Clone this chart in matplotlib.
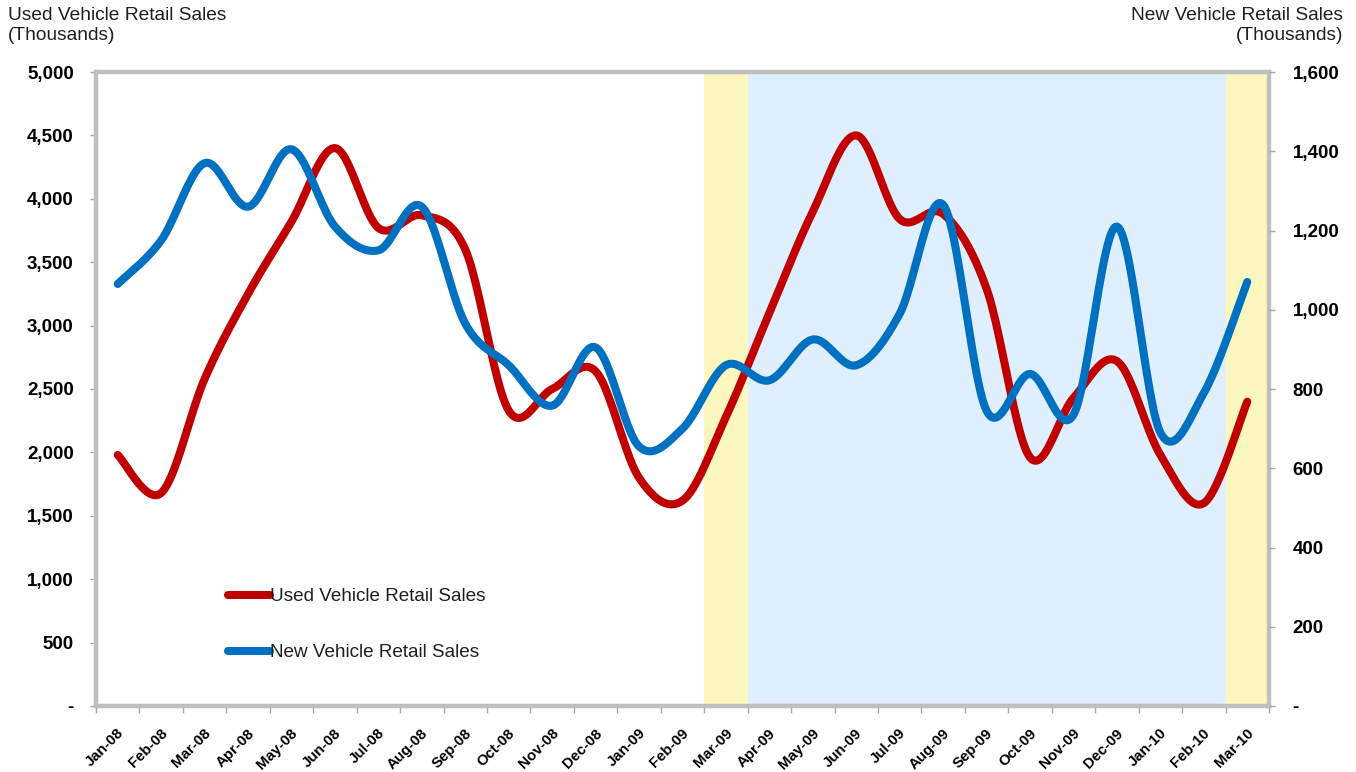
import numpy as np
import matplotlib
matplotlib.use('Agg')
import matplotlib.pyplot as plt
from matplotlib.ticker import FixedLocator, FuncFormatter
from matplotlib.transforms import ScaledTranslation

plt.rcParams['font.family'] = ['Liberation Sans', 'DejaVu Sans']

months = ['Jan-08', 'Feb-08', 'Mar-08', 'Apr-08', 'May-08', 'Jun-08', 'Jul-08',
          'Aug-08', 'Sep-08', 'Oct-08', 'Nov-08', 'Dec-08', 'Jan-09', 'Feb-09',
          'Mar-09', 'Apr-09', 'May-09', 'Jun-09', 'Jul-09', 'Aug-09', 'Sep-09',
          'Oct-09', 'Nov-09', 'Dec-09', 'Jan-10', 'Feb-10', 'Mar-10']

used_sales = [1980, 1680, 2580, 3250, 3820, 4400, 3770, 3870, 3600, 2330,
              2500, 2640, 1800, 1620, 2280, 3100, 3900, 4500, 3840, 3880,
              3290, 1960, 2430, 2720, 1980, 1600, 2400]

new_sales = [1065, 1175, 1370, 1260, 1405, 1210, 1150, 1260, 965, 860,
             758, 905, 655, 700, 860, 822, 925, 860, 990, 1265,
             745, 838, 735, 1210, 690, 790, 1070]

yellow_months = ['Mar-09', 'Mar-10']
blue_range = ('Apr-09', 'Feb-10')

used_label = 'Used Vehicle Retail Sales'
new_label = 'New Vehicle Retail Sales'
left_title = 'Used Vehicle Retail Sales\n(Thousands)'
right_title = 'New Vehicle Retail Sales\n(Thousands)'


def smooth(values, n=24):
    """Excel-like smoothed line (Catmull-Rom / Bezier through the points)."""
    pts = np.column_stack([np.arange(len(values)), np.asarray(values, float)])
    ext = np.vstack([pts[0], pts, pts[-1]])
    t = np.linspace(0, 1, n, endpoint=False)[:, None]
    segs = []
    for i in range(len(pts) - 1):
        p0, p1, p2, p3 = ext[i], ext[i + 1], ext[i + 2], ext[i + 3]
        c1 = p1 + (p2 - p0) / 6.0
        c2 = p2 - (p3 - p1) / 6.0
        segs.append((1 - t) ** 3 * p1 + 3 * (1 - t) ** 2 * t * c1
                    + 3 * (1 - t) * t ** 2 * c2 + t ** 3 * p2)
    segs.append(pts[-1:])
    s = np.vstack(segs)
    return s[:, 0], s[:, 1]


W, H = 1356, 772
fig = plt.figure(figsize=(W / 100, H / 100), dpi=100)
L, R, B, T = 96, 1269, 706, 72
ax = fig.add_axes([L / W, 1 - B / H, (R - L) / W, (B - T) / H])
ax2 = ax.twinx()

n = len(months)
ax.set_xlim(-0.5, n - 0.5)
ax.set_ylim(0, 5000)
ax2.set_ylim(0, 1600)

# shading
for m in yellow_months:
    i = months.index(m)
    ax.axvspan(i - 0.5, i + 0.5, color='#FCF7BE', lw=0, zorder=0)
ax.axvspan(months.index(blue_range[0]) - 0.5, months.index(blue_range[1]) + 0.5,
           color='#DFEFFD', lw=0, zorder=0)

xs, ys = smooth(used_sales)
l1, = ax.plot(xs, ys, color='#C00000', lw=5.8, solid_capstyle='round',
              solid_joinstyle='round', zorder=3, label=used_label)
xs, ys = smooth(new_sales)
l2, = ax2.plot(xs, ys, color='#0070C0', lw=5.8, solid_capstyle='round',
               solid_joinstyle='round', zorder=3, label=new_label)

# spines / frame
for s in ax.spines.values():
    s.set_color('#BFBFBF')
    s.set_linewidth(3.2)
for s in ax2.spines.values():
    s.set_visible(False)

fmt = FuncFormatter(lambda v, p: '-' if v == 0 else f'{v:,.0f}')
ax.yaxis.set_major_locator(FixedLocator(np.arange(0, 5001, 500)))
ax.yaxis.set_major_formatter(fmt)
ax2.yaxis.set_major_locator(FixedLocator(np.arange(0, 1601, 200)))
ax2.yaxis.set_major_formatter(fmt)

ax.tick_params(axis='y', which='major', direction='out', length=4, width=1,
               color='#A6A6A6', pad=12, labelsize=13.5)
ax2.tick_params(axis='y', which='major', direction='out', length=4, width=1,
                color='#A6A6A6', pad=13, labelsize=13.5)
for lbl in ax.get_yticklabels() + ax2.get_yticklabels():
    lbl.set_fontweight('bold')

# x: tick marks at category boundaries, labels at centers
ax.xaxis.set_major_locator(FixedLocator(np.arange(-0.5, n, 1.0)))
ax.xaxis.set_major_formatter(FuncFormatter(lambda v, p: ''))
ax.xaxis.set_minor_locator(FixedLocator(np.arange(n)))
ax.set_xticklabels(months, minor=True)
ax.tick_params(axis='x', which='major', direction='out', length=5, width=1,
               color='#A6A6A6')
ax.tick_params(axis='x', which='minor', length=0, pad=18, labelsize=10.8)
off = ScaledTranslation(4 / 100, 0, fig.dpi_scale_trans)
for lbl in ax.get_xticklabels(minor=True):
    lbl.set_rotation(45)
    lbl.set_ha('right')
    lbl.set_va('center')
    lbl.set_rotation_mode('anchor')
    lbl.set_fontweight('bold')
    lbl.set_transform(lbl.get_transform() + off)

# titles
fig.text(8 / W, 1 - 7 / H, left_title, ha='left', va='top', fontsize=13.8,
         color='#1F1F1F', linespacing=1.2)
fig.text(1343 / W, 1 - 7 / H, right_title, ha='right', va='top', fontsize=13.8,
         color='#1F1F1F', linespacing=1.2, multialignment='right')

# legend
leg = ax2.legend(handles=[l1, l2], loc='upper left',
                 bbox_to_anchor=(228 / W, 1 - 588 / H),
                 bbox_transform=fig.transFigure, frameon=False,
                 fontsize=13.6, handlelength=2.2, handletextpad=0.05,
                 labelspacing=2.05, borderpad=0, borderaxespad=0)
for t in leg.get_texts():
    t.set_color('#1F1F1F')

fig.savefig('out.png', dpi=100)
